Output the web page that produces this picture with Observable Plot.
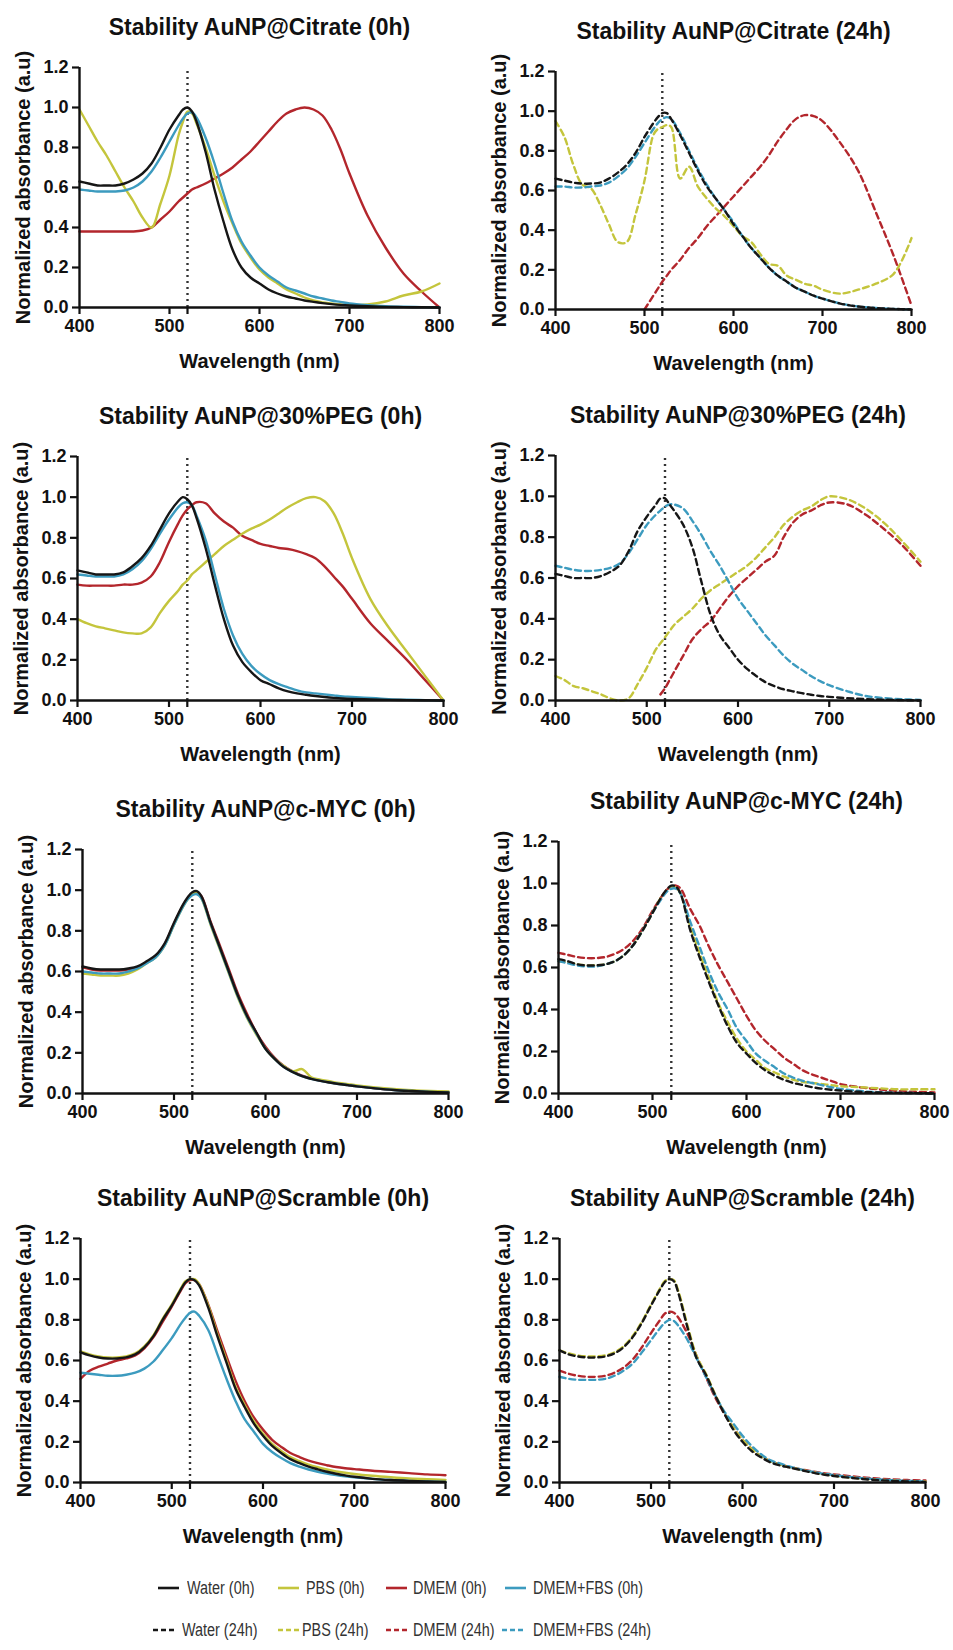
<!DOCTYPE html>
<html><head><meta charset="utf-8">
<script src="https://cdn.jsdelivr.net/npm/d3@7"></script>
<script src="https://cdn.jsdelivr.net/npm/@observablehq/plot@0.6"></script>
<style>
body{margin:0;background:#fff;}
#root{position:relative;width:953px;height:1650px;overflow:hidden;}
.panel{position:absolute;}
.leg{position:absolute;font-family:"Liberation Sans",Arial,sans-serif;font-size:18px;color:#333;white-space:nowrap;line-height:20px;transform:scaleX(0.8);transform-origin:0 50%;}
.legline{position:absolute;}
</style></head>
<body><div id="root"></div>
<script>
// ---------- data ----------
const wavelengths = [400,410,420,430,440,450,460,470,480,490,500,510,515,520,525,530,540,550,560,570,580,590,600,610,620,630,640,650,660,670,680,690,700,720,740,760,780,800];
const seriesNames = ["Water","PBS","DMEM","DMEM+FBS"];
const seriesColors = ["#161616","#c4c53c","#b3262c","#3c9bbf"];
const panelTitles = [
  "Stability AuNP@Citrate (0h)","Stability AuNP@Citrate (24h)",
  "Stability AuNP@30%PEG (0h)","Stability AuNP@30%PEG (24h)",
  "Stability AuNP@c-MYC (0h)","Stability AuNP@c-MYC (24h)",
  "Stability AuNP@Scramble (0h)","Stability AuNP@Scramble (24h)"
];
const xTicks = [400,500,600,700,800];
const yTicks = [0,0.2,0.4,0.6,0.8,1.0,1.2];
const peakWavelength = 520;
const xLabel = "Wavelength (nm)";
const yLabel = "Normalized absorbance (a.u)";
const legendLabels0h = ["Water (0h)","PBS (0h)","DMEM (0h)","DMEM+FBS (0h)"];
const legendLabels24h = ["Water (24h)","PBS (24h)","DMEM (24h)","DMEM+FBS (24h)"];

// Citrate 0h
const citrate0Water = [.63,.62,.61,.61,.61,.62,.64,.67,.72,.80,.89,.96,.99,1.0,.98,.93,.78,.59,.43,.29,.20,.15,.12,.09,.07,.055,.045,.035,.028,.022,.017,.013,.01,.006,.003,.002,.001,0];
const citrate0PBS = [.99,.91,.83,.76,.68,.60,.53,.45,.40,.52,.66,.86,.93,.98,.97,.92,.80,.66,.53,.42,.32,.25,.19,.15,.12,.09,.07,.05,.035,.025,.02,.015,.012,.015,.03,.06,.08,.12];
const citrate0DMEM = [.38,.38,.38,.38,.38,.38,.38,.385,.40,.44,.48,.53,.55,.57,.59,.60,.62,.645,.67,.70,.74,.78,.83,.88,.93,.97,.99,1.0,.99,.96,.89,.79,.67,.46,.30,.17,.08,0];
const citrate0FBS = [.59,.585,.58,.58,.58,.585,.60,.63,.68,.75,.83,.91,.945,.97,.975,.95,.85,.72,.57,.43,.33,.26,.20,.16,.13,.10,.085,.07,.055,.045,.035,.028,.02,.012,.007,.004,.002,0];
// Citrate 24h
const citrate24Water = [.66,.65,.64,.635,.635,.64,.66,.69,.73,.79,.87,.94,.97,.99,.99,.96,.88,.79,.70,.62,.56,.50,.43,.37,.31,.26,.21,.17,.14,.11,.09,.07,.055,.03,.015,.007,.003,0];
const citrate24PBS = [.95,.87,.73,.63,.61,.53,.43,.34,.34,.48,.65,.88,.91,.92,.93,.92,.66,.72,.62,.56,.51,.47,.42,.37,.34,.28,.23,.22,.17,.15,.13,.12,.10,.08,.10,.13,.18,.36];
const citrate24DMEM = [null,null,null,null,null,null,null,null,null,null,0,.07,.105,.14,.17,.20,.25,.31,.36,.42,.47,.52,.57,.62,.67,.72,.78,.85,.91,.96,.98,.975,.95,.84,.70,.49,.27,.02];
const citrate24FBS = [.62,.62,.615,.615,.62,.625,.64,.67,.71,.77,.84,.91,.94,.96,.97,.96,.89,.80,.71,.63,.56,.50,.44,.37,.31,.26,.21,.17,.14,.11,.09,.07,.055,.03,.015,.008,.003,0];
// PEG 0h
const peg0Water = [.64,.63,.62,.62,.62,.63,.66,.70,.76,.84,.92,.98,1.0,.99,.96,.90,.75,.57,.40,.27,.19,.14,.10,.08,.06,.045,.035,.028,.022,.017,.013,.01,.008,.005,.003,.002,.001,0];
const peg0PBS = [.40,.38,.365,.355,.345,.335,.33,.33,.36,.43,.49,.54,.57,.59,.62,.64,.68,.72,.76,.79,.82,.845,.865,.89,.92,.95,.975,.995,1.0,.98,.92,.82,.70,.50,.36,.24,.12,0];
const peg0DMEM = [.57,.565,.565,.565,.565,.57,.57,.58,.61,.68,.78,.87,.91,.94,.96,.975,.97,.92,.88,.85,.81,.79,.77,.76,.75,.745,.735,.72,.70,.66,.61,.56,.50,.38,.29,.20,.10,0];
const peg0FBS = [.62,.615,.61,.61,.61,.62,.645,.685,.745,.82,.89,.95,.97,.975,.96,.91,.79,.62,.45,.32,.23,.17,.13,.10,.08,.065,.05,.04,.035,.03,.025,.02,.018,.012,.007,.004,.002,0];
// PEG 24h
const peg24Water = [.62,.61,.60,.60,.60,.61,.63,.66,.73,.83,.90,.96,.99,.99,.96,.93,.86,.75,.58,.42,.32,.26,.20,.155,.12,.09,.07,.055,.045,.036,.028,.022,.018,.011,.007,.004,.002,0];
const peg24PBS = [.12,.10,.07,.06,.045,.03,.01,0,.01,.08,.16,.25,.28,.31,.34,.37,.41,.45,.50,.54,.57,.60,.63,.66,.70,.75,.80,.86,.90,.93,.95,.98,1.0,.985,.94,.87,.78,.68];
const peg24DMEM = [null,null,null,null,null,null,null,null,null,null,null,null,.03,.06,.10,.14,.22,.30,.35,.39,.45,.51,.56,.60,.64,.68,.71,.80,.87,.91,.93,.955,.97,.96,.91,.84,.76,.66];
const peg24FBS = [.66,.65,.64,.635,.635,.64,.65,.67,.72,.79,.86,.91,.93,.95,.96,.96,.94,.88,.81,.73,.66,.58,.50,.44,.38,.32,.27,.22,.18,.15,.12,.095,.075,.045,.022,.012,.006,.003];
// c-MYC 0h
const cmyc0Water = [.625,.615,.61,.61,.61,.615,.625,.65,.68,.74,.84,.93,.965,.99,.995,.97,.84,.72,.60,.48,.38,.30,.22,.17,.13,.105,.085,.072,.062,.054,.047,.041,.035,.025,.017,.012,.008,.005];
const cmyc0PBS = [.59,.585,.58,.58,.58,.59,.61,.64,.67,.73,.83,.92,.955,.98,.985,.96,.83,.71,.59,.47,.37,.29,.22,.17,.135,.11,.12,.08,.068,.06,.052,.046,.04,.03,.022,.016,.012,.01];
const cmyc0DMEM = [.62,.61,.605,.605,.605,.61,.62,.645,.675,.735,.835,.925,.96,.985,.99,.97,.845,.73,.61,.49,.39,.30,.23,.175,.135,.108,.088,.074,.063,.055,.048,.042,.036,.026,.018,.013,.009,.006];
const cmyc0FBS = [.60,.595,.59,.59,.59,.60,.615,.64,.67,.73,.83,.92,.955,.975,.98,.96,.835,.715,.595,.475,.375,.295,.22,.17,.13,.105,.085,.072,.062,.054,.047,.041,.035,.025,.017,.012,.008,.005];
// c-MYC 24h
const cmyc24Water = [.64,.63,.615,.61,.61,.615,.63,.66,.71,.78,.86,.94,.97,.99,.985,.95,.78,.65,.53,.42,.32,.24,.19,.145,.11,.085,.065,.05,.04,.03,.023,.018,.014,.008,.005,.003,.002,0];
const cmyc24PBS = [.63,.625,.615,.61,.61,.615,.63,.66,.71,.78,.86,.94,.965,.98,.98,.95,.80,.67,.55,.43,.34,.26,.20,.16,.12,.10,.08,.065,.055,.05,.045,.04,.035,.03,.025,.02,.02,.02];
const cmyc24DMEM = [.67,.66,.65,.645,.645,.65,.665,.69,.73,.79,.87,.94,.97,.985,.99,.975,.88,.80,.70,.61,.53,.45,.37,.30,.25,.21,.17,.14,.11,.09,.075,.06,.045,.03,.02,.012,.008,.005];
const cmyc24FBS = [.63,.62,.61,.605,.605,.615,.63,.66,.71,.78,.86,.93,.96,.975,.975,.95,.82,.70,.58,.48,.40,.31,.25,.19,.155,.125,.095,.075,.06,.05,.04,.03,.022,.012,.006,.003,.002,0];
// Scramble 0h
const scr0Water = [.64,.625,.615,.61,.61,.615,.63,.665,.72,.80,.87,.95,.985,1.0,.995,.97,.86,.72,.59,.46,.37,.29,.23,.18,.145,.115,.095,.078,.065,.053,.043,.035,.028,.018,.012,.008,.005,.003];
const scr0PBS = [.645,.63,.62,.615,.615,.62,.635,.67,.725,.805,.875,.955,.99,1.0,1.0,.975,.87,.73,.60,.47,.38,.30,.24,.19,.155,.125,.105,.088,.075,.064,.055,.048,.042,.033,.026,.02,.016,.013];
const scr0DMEM = [.51,.55,.57,.585,.60,.61,.625,.66,.715,.79,.865,.945,.98,.995,.995,.975,.875,.745,.62,.50,.40,.32,.26,.21,.175,.145,.125,.108,.095,.085,.076,.07,.066,.058,.052,.046,.04,.036];
const scr0FBS = [.54,.535,.53,.525,.525,.53,.54,.56,.595,.65,.71,.78,.81,.835,.84,.82,.75,.63,.51,.40,.31,.25,.19,.15,.12,.095,.078,.064,.053,.044,.037,.031,.026,.018,.012,.008,.005,.003];
// Scramble 24h
const scr24Water = [.65,.63,.62,.615,.615,.62,.635,.665,.715,.785,.87,.95,.985,1.0,.99,.93,.76,.61,.53,.43,.34,.26,.20,.155,.125,.10,.085,.075,.065,.055,.045,.038,.032,.022,.014,.009,.005,.003];
const scr24PBS = [.65,.635,.625,.62,.62,.625,.64,.67,.72,.79,.875,.955,.99,1.0,.995,.94,.77,.62,.535,.435,.345,.27,.21,.165,.13,.105,.088,.077,.067,.057,.048,.04,.034,.024,.016,.011,.007,.005];
const scr24DMEM = [.55,.535,.525,.52,.52,.525,.54,.565,.605,.665,.735,.80,.83,.84,.835,.81,.73,.62,.52,.42,.34,.27,.21,.165,.13,.105,.09,.078,.068,.06,.052,.045,.04,.03,.022,.016,.012,.01];
const scr24FBS = [.52,.51,.505,.505,.505,.51,.525,.55,.585,.64,.70,.76,.785,.80,.795,.77,.70,.61,.52,.43,.35,.29,.23,.18,.14,.11,.095,.08,.068,.058,.05,.042,.036,.026,.018,.012,.008,.005];

const panelSeries = [
  [citrate0Water,citrate0PBS,citrate0DMEM,citrate0FBS],
  [citrate24Water,citrate24PBS,citrate24DMEM,citrate24FBS],
  [peg0Water,peg0PBS,peg0DMEM,peg0FBS],
  [peg24Water,peg24PBS,peg24DMEM,peg24FBS],
  [cmyc0Water,cmyc0PBS,cmyc0DMEM,cmyc0FBS],
  [cmyc24Water,cmyc24PBS,cmyc24DMEM,cmyc24FBS],
  [scr0Water,scr0PBS,scr0DMEM,scr0FBS],
  [scr24Water,scr24PBS,scr24DMEM,scr24FBS]
];

// ---------- layout ----------
// [left, top, width, height, marginLeft, marginRight, marginTop, marginBottom]
const panelBoxes = [
  [0,0,476,377,79,37,67,70],
  [476,0,477,377,79,42,71,68],
  [0,380,476,388,77,33,76,68],
  [476,380,477,388,79,33,75,68],
  [0,770,476,395,82,28,79,72],
  [476,770,477,395,82,19,71,72],
  [0,1170,476,385,80,31,68,73],
  [476,1170,477,385,83,28,68,73]
];
const drawOrder = [2,1,3,0];
const font = "'Liberation Sans', Arial, Helvetica, sans-serif";
const ink = "#111";

const root = document.getElementById("root");

panelSeries.forEach((series, p) => {
  const [left, top, width, height, ml, mr, mt, mb] = panelBoxes[p];
  const dashed = p % 2 === 1;
  const lines = drawOrder.map(si => {
    const rows = series[si].map((v, i) => ({w: wavelengths[i], v: v == null ? NaN : v}));
    return Plot.line(rows, {
      x: "w", y: "v", stroke: seriesColors[si], strokeWidth: 2.4,
      strokeDasharray: dashed ? "6,4" : null, curve: "catmull-rom"
    });
  });
  const svg = Plot.plot({
    width, height, marginLeft: ml, marginRight: mr, marginTop: mt, marginBottom: mb,
    style: {background: "transparent", fontFamily: font, color: ink, overflow: "visible"},
    x: {domain: [400, 800]},
    y: {domain: [0, 1.2]},
    marks: [
      Plot.ruleX([peakWavelength], {y1: 0, y2: 1.2, stroke: "#333", strokeWidth: 2.4, strokeDasharray: "2,4"}),
      ...lines,
      Plot.axisX({ticks: [...xTicks, peakWavelength], tickFormat: d => d === peakWavelength ? "" : String(d),
        tickSize: 7, tickPadding: 5, strokeWidth: 2.2, fontSize: 18, fontWeight: "bold", fill: ink, stroke: ink, label: null}),
      Plot.axisY({ticks: yTicks, tickFormat: d => d.toFixed(1),
        tickSize: 7, tickPadding: 4, strokeWidth: 2.2, fontSize: 18, fontWeight: "bold", fill: ink, stroke: ink, label: null}),
      Plot.ruleY([0], {stroke: ink, strokeWidth: 2.4}),
      Plot.ruleX([400], {stroke: ink, strokeWidth: 2.4}),
      Plot.text([xLabel], {text: d => d, frameAnchor: "bottom", dy: 54, fontSize: 20, fontWeight: "bold", fill: ink, lineAnchor: "middle"}),
      Plot.text([yLabel], {text: d => d, frameAnchor: "left", dx: -56, rotate: -90, textAnchor: "middle", fontSize: 20, fontWeight: "bold", fill: ink, lineAnchor: "middle"}),
      Plot.text([panelTitles[p]], {text: d => d, frameAnchor: "top", dy: -40, fontSize: 23, fontWeight: "bold", fill: ink, lineAnchor: "middle"})
    ]
  });
  const holder = document.createElement("div");
  holder.className = "panel";
  holder.style.left = left + "px";
  holder.style.top = top + "px";
  holder.appendChild(svg);
  root.appendChild(holder);
});

// ---------- legend ----------
// [lineStart, textStart] per item; rows at given centre y
const legendRows = [
  {y: 1588, labels: legendLabels0h, dash: null, pos: [[158,187],[278,306],[386,413],[505,533]]},
  {y: 1630, labels: legendLabels24h, dash: "5,3", pos: [[153,182],[278,302],[386,413],[502,533]]}
];
legendRows.forEach(row => {
  row.labels.forEach((lab, i) => {
    const [lx, tx] = row.pos[i];
    const s = d3.create("svg").attr("class", "legline").attr("width", 24).attr("height", 6)
      .style("left", lx + "px").style("top", (row.y - 3) + "px");
    s.append("line").attr("x1", 0).attr("x2", 21).attr("y1", 3).attr("y2", 3)
      .attr("stroke", seriesColors[i]).attr("stroke-width", 2.6)
      .attr("stroke-dasharray", row.dash);
    root.appendChild(s.node());
    const t = document.createElement("div");
    t.className = "leg";
    t.style.left = tx + "px";
    t.style.top = (row.y - 10) + "px";
    t.textContent = lab;
    root.appendChild(t);
  });
});
</script>
</body></html>
